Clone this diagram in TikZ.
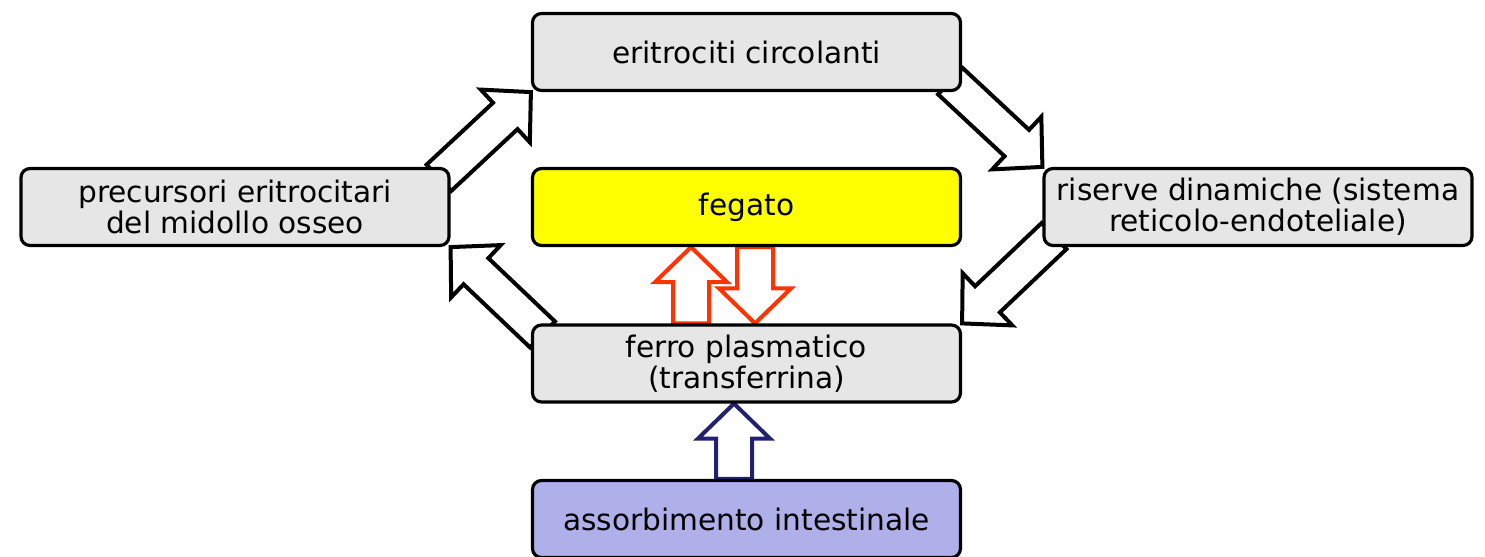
\documentclass[tikz,border=0pt]{standalone}
\usepackage{fontspec}
\setmainfont{DejaVu Sans}
\usetikzlibrary{calc,backgrounds}

\definecolor{grigio}{HTML}{E6E6E6}
\definecolor{giallo}{HTML}{FFFF00}
\definecolor{lavanda}{HTML}{AFAFE9}
\definecolor{rosso}{HTML}{FF3300}
\definecolor{blu}{HTML}{21216F}

% freccia piena: #2 = coda, #3 = punta
\newcommand{\frecciapiena}[3][black]{%
  \coordinate (fb) at ($(#3)!17.5pt!(#2)$);
  \draw[freccia, draw=#1]
    ($(#2)!9pt!90:(#3)$) -- ($(fb)!9pt!90:(#3)$) -- ($(fb)!18pt!90:(#3)$)
    -- (#3)
    -- ($(fb)!18pt!-90:(#3)$) -- ($(fb)!9pt!-90:(#3)$) -- ($(#2)!9pt!-90:(#3)$)
    -- cycle;
}

\begin{document}
\begin{tikzpicture}[x=0.5pt, y=-0.5pt]
  % Stili
  \tikzset{
    box/.style={draw, line width=1.6pt, rounded corners=4.5pt, fill=grigio,
      minimum width=214pt, minimum height=38.5pt, inner sep=0pt,
      align=center, font=\fontsize{14.8}{15.5}\selectfont},
    fegatobox/.style={box, fill=giallo},
    intestbox/.style={box, fill=lavanda},
    freccia/.style={line width=2pt, fill=white, line join=miter}
  }

  \useasboundingbox (0,0) rectangle (1485,557);

  % Riquadri
  \node[box] (erit) at (746.5,52) {eritrociti circolanti};
  \node[box] (prec) at (235,207) {precursori eritrocitari\\del midollo osseo};
  \node[fegatobox] (feg) at (746.5,207) {fegato};
  \node[box] (ris) at (1258,207) {riserve dinamiche (sistema\\reticolo-endoteliale)};
  \node[box] (ferro) at (746.5,363.5) {ferro plasmatico\\(transferrina)};
  \node[intestbox] (ass) at (746.5,519) {assorbimento intestinale};

  % Frecce (dietro i riquadri)
  \begin{pgfonlayer}{background}
    % --- ciclo esterno ---
    \coordinate (c1) at ($(prec.north east)!-8pt!(erit.south west)$);
    \coordinate (c2) at ($(erit.south east)!-8pt!(ris.north west)$);
    \coordinate (c3) at ($(ris.south west)!-8pt!(ferro.north east)$);
    \coordinate (c4) at ($(ferro.north west)!-8pt!(prec.south east)$);
    \frecciapiena{c1}{erit.south west}
    \frecciapiena{c2}{ris.north west}
    \frecciapiena{c3}{ferro.north east}
    \frecciapiena{c4}{prec.south east}

    % --- scambio con il fegato ---
    \coordinate (su0) at ($(ferro.north)+(-55.5,0)$);
    \coordinate (su1) at ($(feg.south)+(-55.5,0)$);
    \coordinate (giu0) at ($(feg.south)+(8.5,0)$);
    \coordinate (giu1) at ($(ferro.north)+(8.5,0)$);
    \frecciapiena[rosso]{su0}{su1}
    \frecciapiena[rosso]{giu0}{giu1}

    % --- assorbimento ---
    \coordinate (as0) at ($(ass.north)+(-12.5,0)$);
    \coordinate (as1) at ($(ferro.south)+(-12.5,0)$);
    \frecciapiena[blu]{as0}{as1}
  \end{pgfonlayer}
\end{tikzpicture}
\end{document}
